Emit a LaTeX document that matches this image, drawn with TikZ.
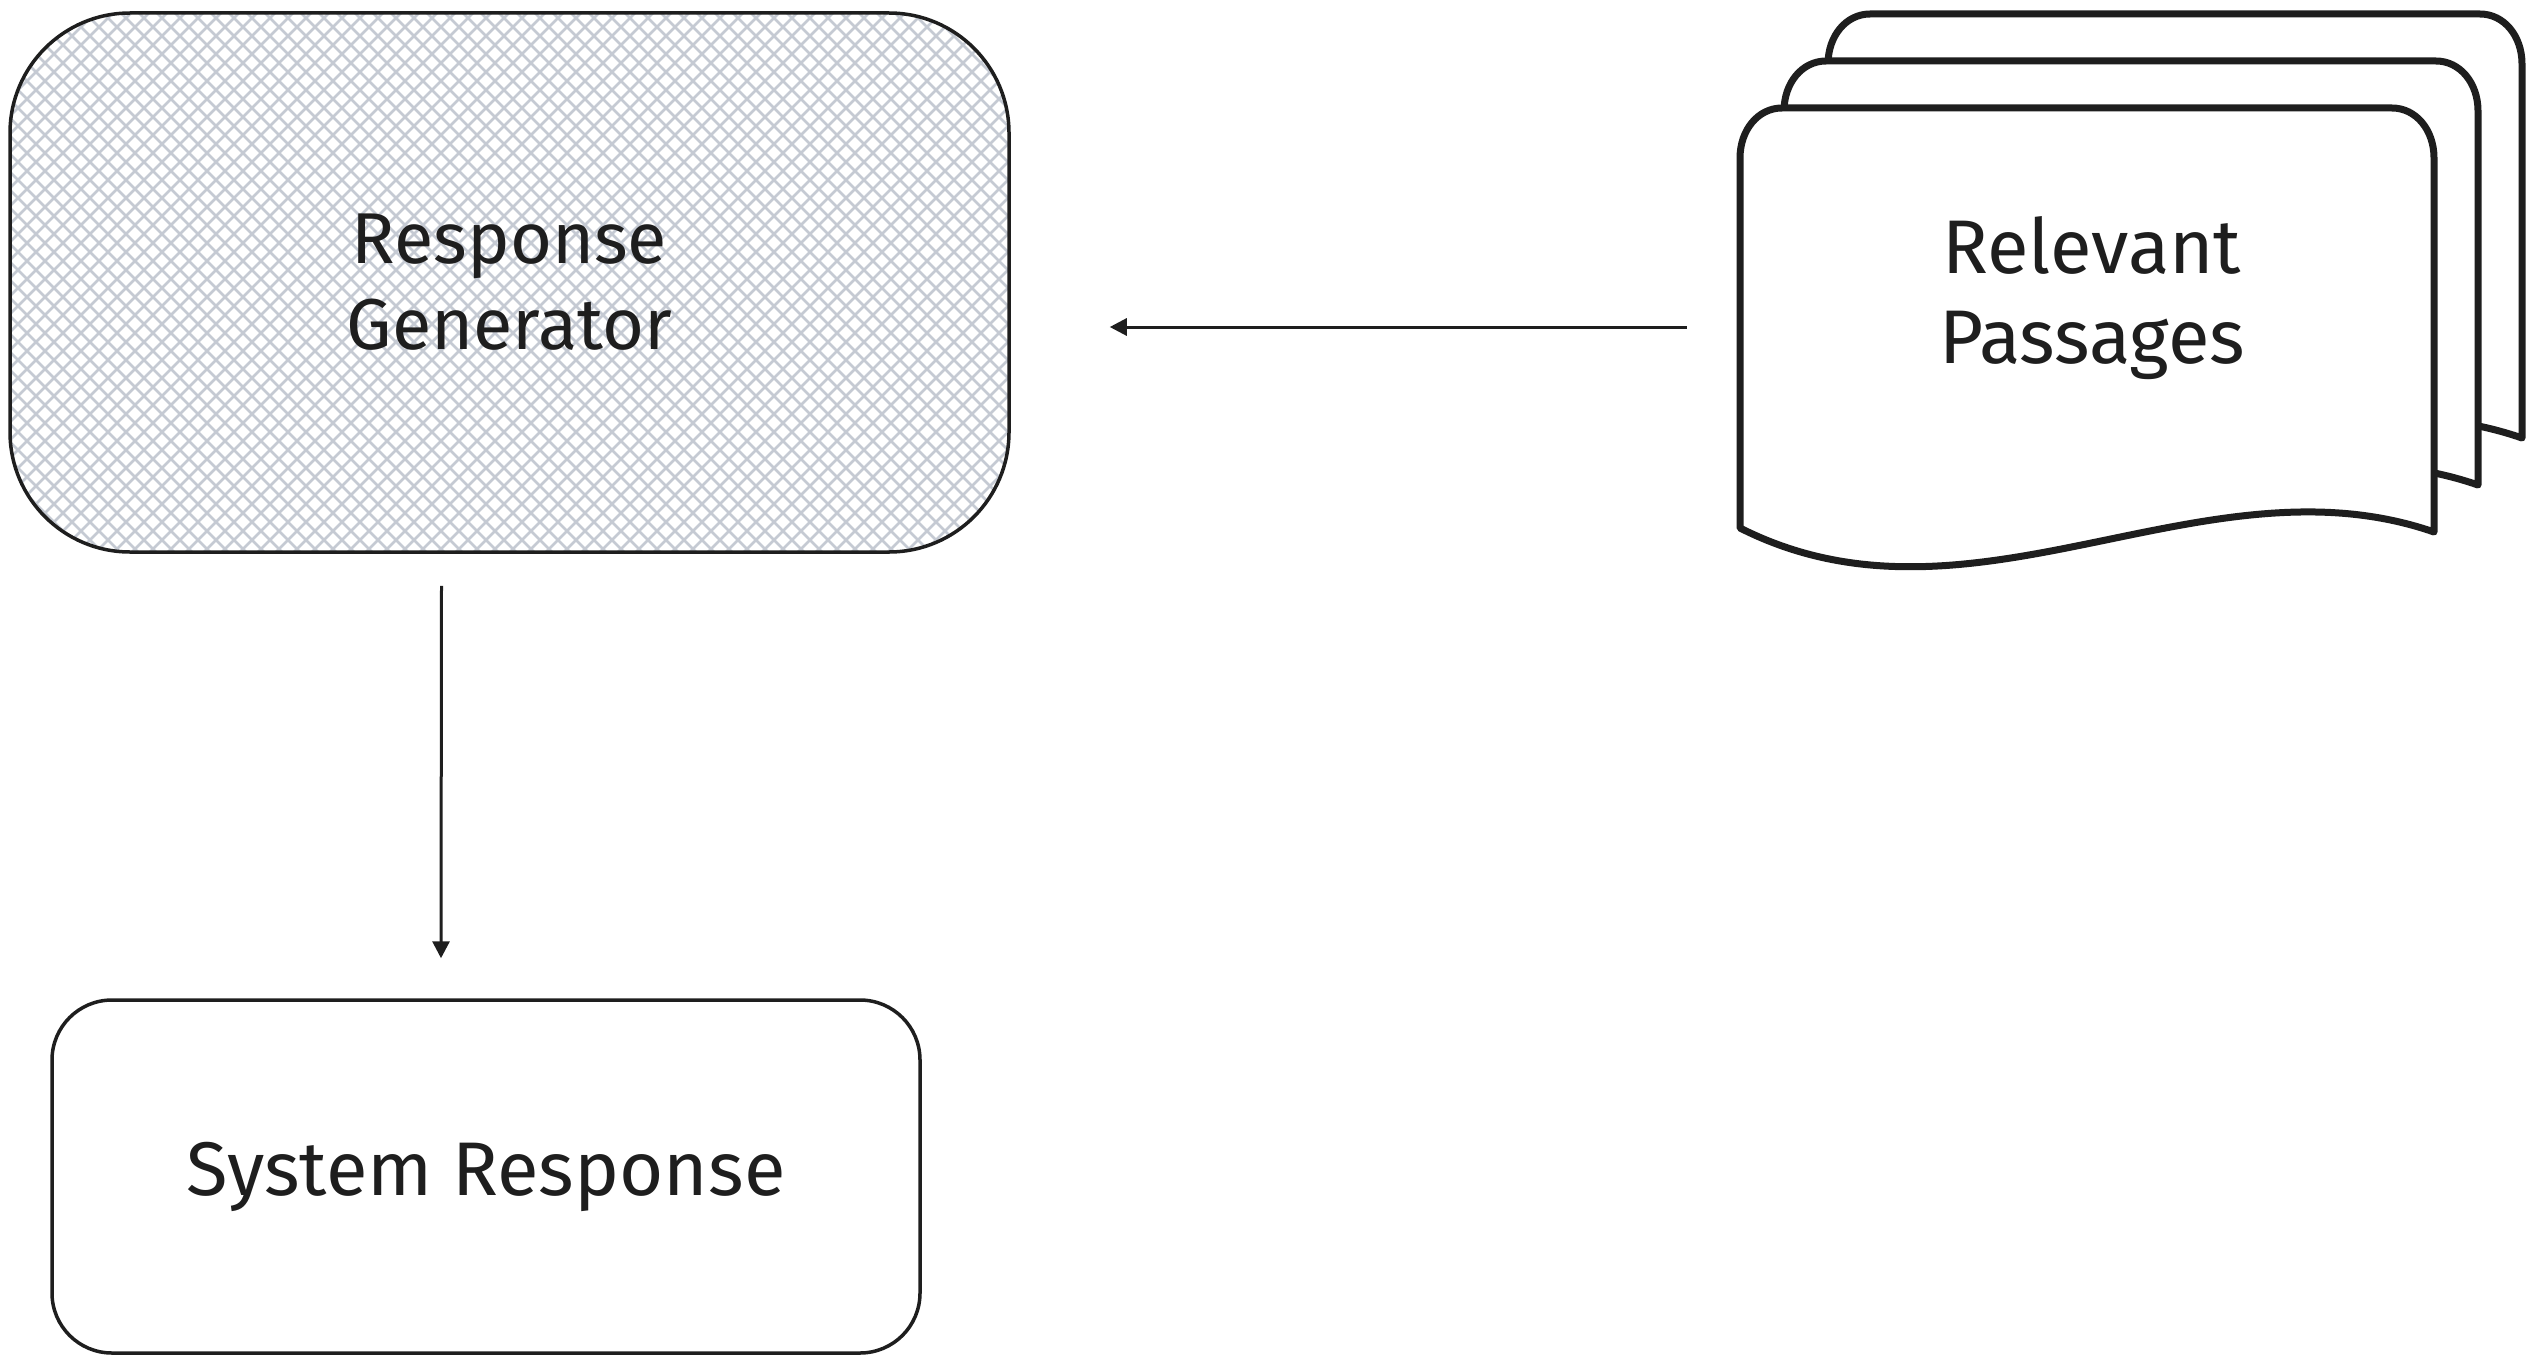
\documentclass[tikz,border=0pt]{standalone}
\usepackage{fontspec}
\setmainfont{Fira Sans}
\usetikzlibrary{arrows.meta}
\definecolor{ink}{HTML}{1E1E1E}
\definecolor{hatchgray}{HTML}{C5CAD3}
\begin{document}
\begin{tikzpicture}[x=1pt,y=-1pt,
  box/.style={draw=ink, line width=3.5pt, rounded corners=#1, inner sep=0pt},
  txt/.style={font=\fontsize{72}{86}\selectfont, text=ink, align=center},
  bigtxt/.style={font=\fontsize{76}{90}\selectfont, text=ink, align=center},
  doc/.style={draw=ink, line width=7pt, fill=white, line join=round},
  hatchline/.style={draw=hatchgray, line width=2.6pt},
  flow/.style={draw=ink, line width=3pt, -{Triangle[length=17pt,width=17pt]}}
]
\useasboundingbox (0,0) rectangle (2531,1362);

% cross-hatched fill of the generator box
\begin{scope}
  \clip[rounded corners=120pt] (10,13) rectangle (1009,552);
  \foreach \k in {-576,-558,...,1020} {
    \draw[hatchline] (\k,0) -- ++(580,580);
  }
  \foreach \k in {0,18,...,1600} {
    \draw[hatchline] (\k,0) -- ++(-580,580);
  }
\end{scope}
\node[box=120pt, minimum width=999pt, minimum height=539pt, txt] (rg) at (509.5,282.5) {Response\\Generator};

% output box
\node[box=60pt, minimum width=868pt, minimum height=353pt, bigtxt] (sr) at (486,1176.5) {System Response};

% stack of three documents, back to front
\foreach \dx/\dy in {88/94, 44/47, 0/0} {
  \draw[doc, shift={(\dx pt,\dy pt)}]
    (1740,528) -- (1740,158)
    .. controls (1740,130) and (1758,108) .. (1782,108)
    -- (2392,108)
    .. controls (2416,108) and (2434,130) .. (2434,158)
    -- (2434,532)
    .. controls (2203,452) and (1971,645) .. (1740,528) -- cycle;
}
\node[minimum width=694pt, minimum height=438pt, inner sep=0pt] (stack) at (2087,327) {};
\node[bigtxt] (rp) at (2092,298) {Relevant\\Passages};

% connectors
\draw[flow] ([xshift=-53pt]stack.west) -- ([xshift=99pt]rg.east |- stack.west);
\draw[flow] ([xshift=-68pt,yshift=-32pt]rg.south) -- ([xshift=-45pt,yshift=40pt]sr.north);
\end{tikzpicture}
\end{document}
